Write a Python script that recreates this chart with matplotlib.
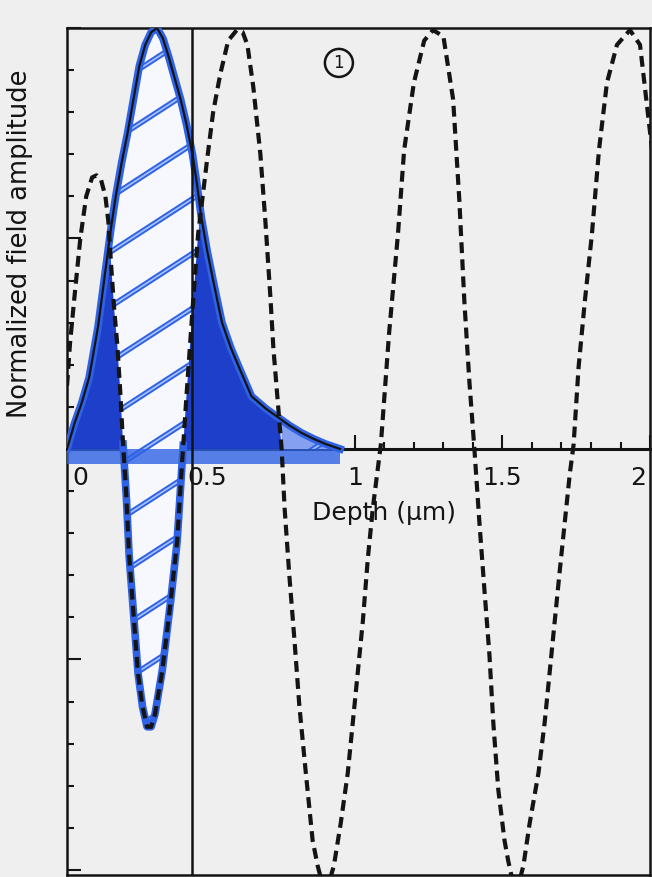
import numpy as np
import matplotlib.pyplot as plt
from matplotlib.path import Path
from matplotlib.ticker import MultipleLocator

# guided mode field (solid) and substrate/radiation field (dashed)
solid_depth = [0.025, 0.05, 0.075, 0.10, 0.13, 0.16, 0.175, 0.19, 0.21, 0.23, 0.25, 0.27,
               0.29, 0.31, 0.33, 0.35, 0.37, 0.39, 0.41, 0.43, 0.45, 0.465, 0.48, 0.50,
               0.52, 0.55, 0.58, 0.61, 0.65, 0.70, 0.74, 0.78, 0.82, 0.86, 0.90, 0.95]
solid_amp = [0.00, 0.06, 0.11, 0.17, 0.29, 0.45, 0.53, 0.60, 0.68, 0.75, 0.83, 0.91,
             0.96, 0.99, 1.00, 0.975, 0.93, 0.88, 0.83, 0.77, 0.70, 0.63, 0.55, 0.47,
             0.40, 0.30, 0.24, 0.19, 0.125, 0.095, 0.075, 0.055, 0.038, 0.024, 0.012, 0.00]

dashed_depth = [0.025, 0.035, 0.05, 0.07, 0.09, 0.11, 0.125, 0.14, 0.155, 0.165, 0.175,
                0.185, 0.195, 0.205, 0.215, 0.225, 0.235, 0.25, 0.265, 0.28, 0.296, 0.31,
                0.323, 0.347, 0.374, 0.398, 0.415, 0.43, 0.45, 0.469, 0.50, 0.52, 0.544,
                0.571, 0.60, 0.62, 0.636, 0.656, 0.68, 0.697, 0.714, 0.724, 0.738, 0.752,
                0.762, 0.778, 0.795, 0.812, 0.834, 0.857, 0.874, 0.90, 0.929, 0.952, 0.976,
                0.993, 1.010, 1.027, 1.044, 1.061, 1.088, 1.116, 1.146, 1.167, 1.20, 1.235,
                1.265, 1.30, 1.333, 1.354, 1.371, 1.388, 1.405, 1.422, 1.439, 1.456, 1.469,
                1.486, 1.507, 1.52, 1.545, 1.571, 1.592, 1.622, 1.643, 1.66, 1.677, 1.694,
                1.711, 1.728, 1.741, 1.758, 1.779, 1.803, 1.827, 1.854, 1.888, 1.932, 1.966,
                2.007]
dashed_amp = [0.15, 0.25, 0.36, 0.50, 0.60, 0.645, 0.65, 0.64, 0.60, 0.54, 0.43,
              0.33, 0.25, 0.14, 0.01, -0.10, -0.25, -0.39, -0.53, -0.61, -0.66, -0.66,
              -0.63, -0.53, -0.375, -0.22, -0.03, 0.13, 0.33, 0.51, 0.69, 0.80, 0.89,
              0.97, 0.995, 0.99, 0.96, 0.86, 0.70, 0.54, 0.36, 0.24, 0.12, 0.0,
              -0.14, -0.30, -0.45, -0.61, -0.77, -0.93, -0.99, -1.06, -0.99, -0.89, -0.77,
              -0.65, -0.53, -0.41, -0.26, -0.14, 0.01, 0.275, 0.51, 0.71, 0.87, 0.97,
              0.995, 0.98, 0.83, 0.59, 0.35, 0.16, 0.0, -0.175, -0.335, -0.49, -0.65,
              -0.81, -0.93, -0.98, -1.06, -0.99, -0.89, -0.77, -0.65, -0.53, -0.41, -0.29,
              -0.175, -0.06, 0.01, 0.195, 0.35, 0.51, 0.71, 0.87, 0.96, 0.995, 0.96,
              0.71]

boundary_depth = 0.45
x_ticks = [0, 0.5, 1, 1.5, 2]
x_tick_labels = ['0', '0.5', '1', '1.5', '2']

bg = '#efefef'
ink = '#141414'
dark_blue = '#1d3fc9'
mid_blue = '#2f62e4'
pale_blue = '#a9c2ff'

fig = plt.figure(figsize=(6.52, 8.77), dpi=100)
fig.set_facecolor(bg)
ax = fig.add_axes([0.1028, 0.0023, 0.8942, 0.9658])
ax.set_facecolor(bg)
ax.set_xlim(0.025, 2.0)
ax.set_ylim(-1.012, 1.0)

# hand colouring: hatched where the fields have opposite sign, solid where both positive
grid = np.linspace(solid_depth[0], solid_depth[-1], 800)
s = np.interp(grid, solid_depth, solid_amp)
d = np.interp(grid, dashed_depth, dashed_amp)
lower = np.where(grid < boundary_depth, d, np.maximum(d, 0))

hatch = ax.fill_between(grid, lower, s, where=lower < s, interpolate=True,
                        facecolor='#f7f8fd', edgecolor='none', zorder=1)
ax.fill_between(grid, 0, s, where=(grid > boundary_depth) & (d < 0), interpolate=True,
                facecolor='#5f83ec', edgecolor='none', alpha=0.75, zorder=1.5)
ax.fill_between(grid, 0, np.minimum(s, d), where=d > 0, interpolate=True,
                facecolor=dark_blue, edgecolor='none', zorder=2)

clip = Path.make_compound_path(*hatch.get_paths())
hx = np.array([0.0, 1.0])
for c in np.arange(-1.3, 1.2, 0.13):
    for lw, col in [(4.0, mid_blue), (1.2, pale_blue)]:
        ln, = ax.plot(hx, c + 0.454 * hx, color=col, lw=lw, zorder=2.5,
                      solid_capstyle='butt')
        ln.set_clip_path(clip, ax.transData)

# marker strokes along the outlines
ax.plot(solid_depth, solid_amp, color=mid_blue, lw=5.5, zorder=3)
loop = np.where((grid < boundary_depth) & (d < 0.02), d, np.nan)
ax.plot(grid, loop, color=mid_blue, lw=5.5, zorder=3)
ax.fill_between([solid_depth[0], solid_depth[-1]], -0.035, 0, color=mid_blue,
                alpha=0.8, edgecolor='none', zorder=3)

# curves
ax.plot(solid_depth, solid_amp, color=ink, lw=1.6, zorder=5)
ax.plot(dashed_depth, dashed_amp, color=ink, lw=3, dashes=(2.6, 1.5), zorder=5)
ax.axvline(boundary_depth, color=ink, lw=1.8, zorder=4)

# frame and ticks
for sp in ax.spines.values():
    sp.set_linewidth(1.8)
    sp.set_color(ink)
ax.set_xticks([])
ax.yaxis.set_major_locator(MultipleLocator(0.5))
ax.yaxis.set_minor_locator(MultipleLocator(0.1))
ax.tick_params(axis='y', which='both', direction='in', labelleft=False,
               width=1.5, color=ink)
ax.tick_params(axis='y', which='major', length=10)
ax.tick_params(axis='y', which='minor', length=5)

sec = ax.secondary_xaxis(0, transform=ax.transData)
sec.spines['bottom'].set_linewidth(2.2)
sec.spines['bottom'].set_color(ink)
sec.set_xticks(x_ticks)
sec.xaxis.set_minor_locator(MultipleLocator(0.1))
sec.tick_params(axis='x', which='both', direction='in', labelbottom=False,
                width=1.5, color=ink)
sec.tick_params(axis='x', which='major', length=10)
sec.tick_params(axis='x', which='minor', length=5)

x0, x1 = ax.get_xlim()
for t, lab in zip(x_ticks, x_tick_labels):
    xt, ha = t, 'center'
    if t <= x0:
        xt, ha = x0 + 0.018, 'left'
    elif t >= x1:
        xt, ha = x1 - 0.012, 'right'
    ax.text(xt, -0.07, lab, ha=ha, va='center', fontsize=18, color=ink, zorder=6)

ax.text(1.1, -0.152, 'Depth (\u03bcm)', ha='center', va='center', fontsize=18,
        color=ink, zorder=6)
ax.set_ylabel('Normalized field amplitude', fontsize=18.5, color=ink)
ax.yaxis.set_label_coords(-0.058, 0.745)

ax.text(0.946, 0.917, '1', ha='center', va='center', fontsize=12, color=ink,
        bbox=dict(boxstyle='circle,pad=0.3', fc='none', ec=ink, lw=1.8))

fig.savefig('out.png', dpi=100, facecolor=bg)
